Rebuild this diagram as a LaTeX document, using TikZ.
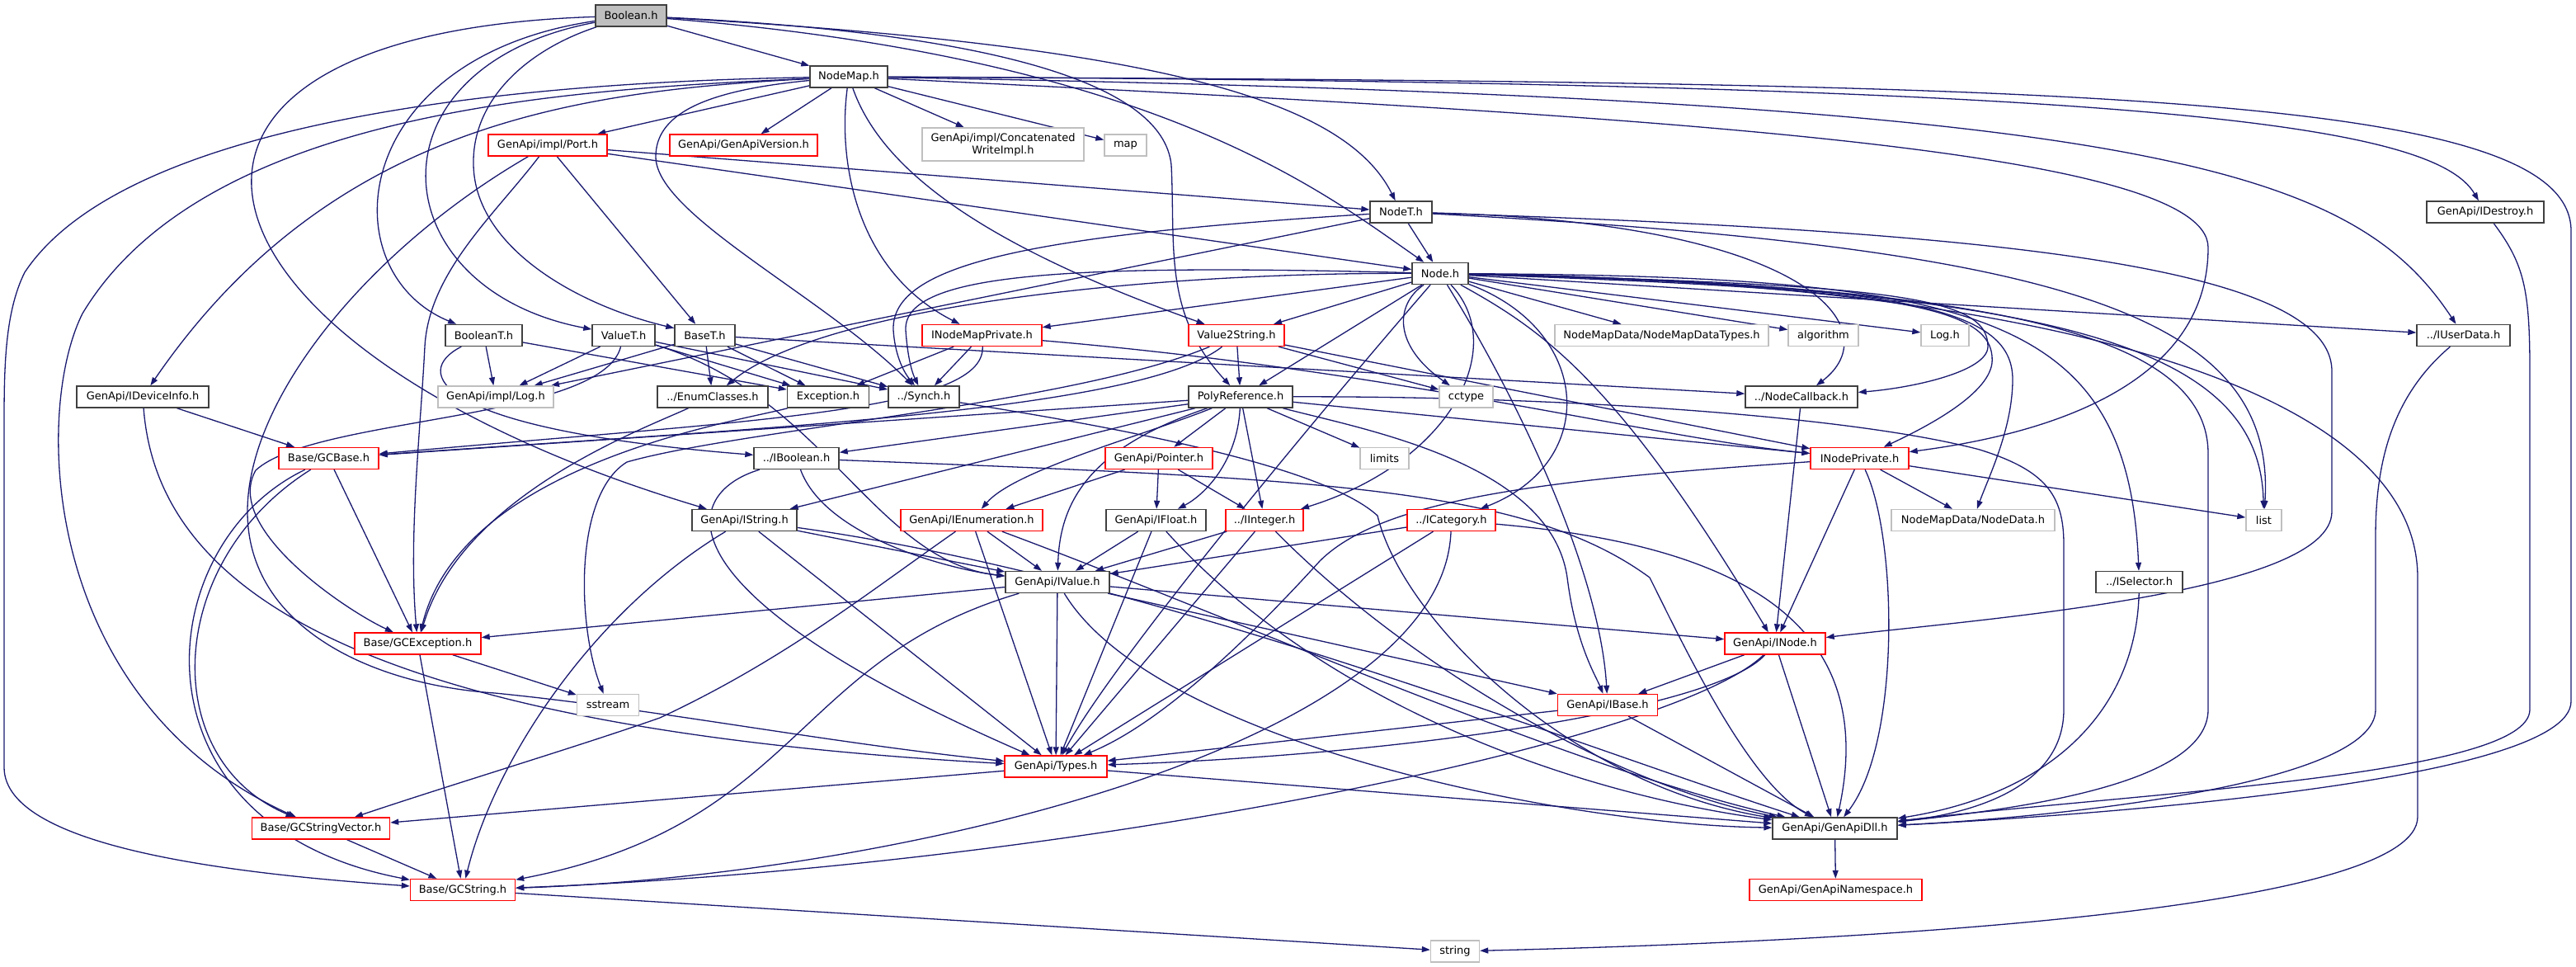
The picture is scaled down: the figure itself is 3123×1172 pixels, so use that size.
\documentclass[tikz,border=0pt]{standalone}
\usepackage{fontspec}
\setmainfont{DejaVu Sans}
\usetikzlibrary{arrows.meta}
\definecolor{edgeblue}{HTML}{191970}
\definecolor{boxgray}{HTML}{404040}
\definecolor{extgray}{HTML}{BFBFBF}
\definecolor{boxred}{HTML}{FF0000}
\newcommand\dxfont{\fontsize{13pt}{15pt}\selectfont}
\pgfdeclarelayer{bg}
\pgfsetlayers{bg,main}
\tikzset{
 dxbox/.style={draw=boxgray, line width=1.4pt, fill=white, minimum height=26pt, inner sep=0pt, font=\dxfont},
 dxred/.style={dxbox, draw=boxred},
 dxext/.style={dxbox, draw=extgray},
 dxroot/.style={dxbox, fill=extgray},
 dxedge/.style={draw=edgeblue, line width=1.3pt, -{Triangle[length=10pt,width=7pt]}},
}
\begin{document}
\begin{tikzpicture}[x=1pt,y=-1pt]
\useasboundingbox (0,0) rectangle (3123,1172);
% nodes
\node[dxroot, minimum width=86pt] (bool) at (765,19) {Boolean.h};
\node[dxbox, minimum width=94pt] (nmap) at (1029,93) {NodeMap.h};
\node[dxred, minimum width=144pt] (port) at (664,176) {GenApi/impl/Port.h};
\node[dxred, minimum width=179pt] (gver) at (901.5,176) {GenApi/GenApiVersion.h};
\node[dxext, minimum width=196pt, minimum height=40pt, align=center] (cwi) at (1216,175) {GenApi/impl/Concatenated\\WriteImpl.h};
\node[dxext, minimum width=51pt] (map) at (1364.5,176) {map};
\node[dxbox, minimum width=75pt] (nodet) at (1698.5,257) {NodeT.h};
\node[dxbox, minimum width=142pt] (idest) at (3013,257) {GenApi/IDestroy.h};
\node[dxbox, minimum width=68pt] (node) at (1746,331.5) {Node.h};
\node[dxbox, minimum width=93pt] (boolt) at (586.5,406.5) {BooleanT.h};
\node[dxbox, minimum width=76pt] (valt) at (756,406.5) {ValueT.h};
\node[dxbox, minimum width=73pt] (baset) at (854.5,406.5) {BaseT.h};
\node[dxred, minimum width=145pt] (nmp) at (1190.5,406.5) {INodeMapPrivate.h};
\node[dxred, minimum width=116pt] (v2s) at (1499,406.5) {Value2String.h};
\node[dxext, minimum width=259pt] (nmdt) at (2014.5,406.5) {NodeMapData/NodeMapDataTypes.h};
\node[dxext, minimum width=85pt] (algo) at (2210.5,406.5) {algorithm};
\node[dxext, minimum width=58pt] (logh) at (2358,406.5) {Log.h};
\node[dxbox, minimum width=113pt] (iud) at (2986.5,406.5) {../IUserData.h};
\node[dxbox, minimum width=160pt] (idev) at (173,481) {GenApi/IDeviceInfo.h};
\node[dxext, minimum width=140pt] (ilog) at (601,481) {GenApi/impl/Log.h};
\node[dxbox, minimum width=134pt] (enumc) at (864,481) {../EnumClasses.h};
\node[dxbox, minimum width=99pt] (exc) at (1004,481) {Exception.h};
\node[dxbox, minimum width=86pt] (synch) at (1120,481) {../Synch.h};
\node[dxbox, minimum width=126pt] (poly) at (1504,481) {PolyReference.h};
\node[dxext, minimum width=65pt] (cctype) at (1777.5,481) {cctype};
\node[dxbox, minimum width=136pt] (ncb) at (2184,481) {../NodeCallback.h};
\node[dxred, minimum width=121pt] (gcbase) at (398.5,555.5) {Base/GCBase.h};
\node[dxbox, minimum width=103pt] (ibool) at (965.5,555.5) {../IBoolean.h};
\node[dxred, minimum width=130pt] (ptr) at (1405,555.5) {GenApi/Pointer.h};
\node[dxext, minimum width=59pt] (limits) at (1678.5,555.5) {limits};
\node[dxred, minimum width=119pt] (inp) at (2254.5,555.5) {INodePrivate.h};
\node[dxbox, minimum width=127pt] (istr) at (902.5,630.5) {GenApi/IString.h};
\node[dxred, minimum width=172pt] (ienum) at (1178,630.5) {GenApi/IEnumeration.h};
\node[dxbox, minimum width=121pt] (ifloat) at (1401.5,630.5) {GenApi/IFloat.h};
\node[dxred, minimum width=94pt] (iint) at (1533,630.5) {../IInteger.h};
\node[dxred, minimum width=107pt] (icat) at (1759.5,630.5) {../ICategory.h};
\node[dxext, minimum width=198pt] (ndata) at (2392,630.5) {NodeMapData/NodeData.h};
\node[dxext, minimum width=43pt] (list) at (2744.5,630.5) {list};
\node[dxbox, minimum width=126pt] (ival) at (1282,705.5) {GenApi/IValue.h};
\node[dxbox, minimum width=105pt] (isel) at (2593.5,705.5) {../ISelector.h};
\node[dxred, minimum width=153pt] (gcexc) at (506.5,780) {Base/GCException.h};
\node[dxred, minimum width=122pt] (inode) at (2152,780) {GenApi/INode.h};
\node[dxext, minimum width=75pt] (sstream) at (737,854.5) {sstream};
\node[dxred, minimum width=121pt] (ibase) at (1949,854.5) {GenApi/IBase.h};
\node[dxred, minimum width=124pt] (types) at (1280,929) {GenApi/Types.h};
\node[dxred, minimum width=167pt] (gcsv) at (389,1004) {Base/GCStringVector.h};
\node[dxbox, minimum width=151pt] (dll) at (2224.5,1004) {GenApi/GenApiDll.h};
\node[dxred, minimum width=127pt] (gcs) at (561,1078.5) {Base/GCString.h};
\node[dxred, minimum width=209pt] (gns) at (2225.5,1078.5) {GenApi/GenApiNamespace.h};
\node[dxext, minimum width=59pt] (string) at (1764,1153) {string};

\begin{pgfonlayer}{bg}
% Boolean.h
\draw[dxedge] (bool) -- (nmap);
\draw[dxedge] (bool) .. controls (1400,55) and (1630,120) .. (nodet);
\draw[dxedge] (bool) .. controls (1400,70) and (1600,230) .. (node);
\draw[dxedge] (bool) .. controls (1200,40) and (1410,100) .. (1420,200) .. controls (1425,300) and (1410,380) .. (poly);
\draw[dxedge] (bool) .. controls (420,70) and (400,330) .. (boolt);
\draw[dxedge] (bool) .. controls (440,80) and (460,350) .. (valt);
\draw[dxedge] (bool) .. controls (640,60) and (572,120) .. (574,200) .. controls (576,300) and (700,370) .. (baset);
\draw[dxedge] (bool) .. controls (100,40) and (200,420) .. (istr);
% NodeMap.h
\draw[dxedge] (nmap) -- (port);
\draw[dxedge] (nmap) -- (gver);
\draw[dxedge] (nmap) -- (cwi);
\draw[dxedge] (nmap) -- (map);
\draw[dxedge] (nmap) .. controls (1070,210) and (1200,300) .. (v2s);
\draw[dxedge] (nmap) .. controls (1015,200) and (1040,330) .. (nmp);
\draw[dxedge] (nmap) .. controls (850,110) and (795,140) .. (795,190) .. controls (795,260) and (1000,360) .. (synch);
\draw[dxedge] (nmap) .. controls (700,110) and (400,150) .. (idev);
\draw[dxedge] (nmap) .. controls (700,108) and (250,130) .. (100,380) .. controls (40,500) and (50,850) .. (gcsv);
\draw[dxedge] (nmap) .. controls (600,100) and (150,150) .. (30,330) .. controls (5,380) and (5,450) .. (5,520) -- (5,930) .. controls (5,1030) and (300,1060) .. (gcs);
\draw[dxedge] (nmap) .. controls (2600,100) and (2950,150) .. (idest);
\draw[dxedge] (nmap) .. controls (2500,100) and (3117,110) .. (3117,280) -- (3117,850) .. controls (3117,950) and (2500,990) .. (dll);
\draw[dxedge] (nmap) .. controls (2600,120) and (2850,200) .. (iud);
\draw[dxedge] (nmap) .. controls (2000,140) and (2677,180) .. (2677,300) .. controls (2677,480) and (2450,530) .. (inp);
% Port.h
\draw[dxedge] (port) -- (nodet);
\draw[dxedge] (port) -- (node);
\draw[dxedge] (port) -- (baset);
\draw[dxedge] (port) .. controls (600,260) and (520,330) .. (515,420) .. controls (510,520) and (495,650) .. (gcexc);
\draw[dxedge] (port) .. controls (450,300) and (300,480) .. (300,620) .. controls (300,760) and (450,830) .. (600,840) .. controls (800,860) and (1000,900) .. (types);
% NodeT.h
\draw[dxedge] (nodet) -- (node);
\draw[dxedge] (nodet) .. controls (1250,285) and (1080,320) .. (1083,400) .. controls (1085,430) and (1095,450) .. (synch);
\draw[dxedge] (nodet) -- (ilog);
\draw[dxedge] (nodet) .. controls (2200,270) and (2290,400) .. (ncb);
\draw[dxedge] (nodet) .. controls (2400,280) and (2827,320) .. (2827,450) -- (2827,620) .. controls (2827,720) and (2400,750) .. (inode);
\draw[dxedge] (nodet) .. controls (2500,300) and (2760,380) .. (list);
% IDestroy
\draw[dxedge] (idest) .. controls (3060,320) and (3067,350) .. (3067,450) -- (3067,860) .. controls (3067,940) and (2600,960) .. (dll);
% Node.h
\draw[dxedge] (node) -- (nmdt);
\draw[dxedge] (node) -- (algo);
\draw[dxedge] (node) -- (logh);
\draw[dxedge] (node) -- (iud);
\draw[dxedge] (node) .. controls (2400,335) and (2580,380) .. (isel);
\draw[dxedge] (node) .. controls (2500,350) and (2740,420) .. (list);
\draw[dxedge] (node) .. controls (2300,345) and (2440,370) .. (2440,460) .. controls (2440,520) and (2410,580) .. (ndata);
\draw[dxedge] (node) .. controls (2400,340) and (2931,450) .. (2931,700) -- (2931,990) .. controls (2931,1100) and (2300,1140) .. (string);
\draw[dxedge] (node) .. controls (2400,345) and (2677,400) .. (2677,550) -- (2677,860) .. controls (2677,950) and (2450,980) .. (dll);
\draw[dxedge] (node) .. controls (2300,345) and (2410,360) .. (2410,420) .. controls (2410,450) and (2320,470) .. (ncb);
\draw[dxedge] (node) .. controls (2300,350) and (2420,370) .. (2415,440) .. controls (2410,480) and (2330,520) .. (inp);
\draw[dxedge] (node) .. controls (1690,370) and (1690,420) .. (cctype);
\draw[dxedge] (node) -- (v2s);
\draw[dxedge] (node) -- (poly);
\draw[dxedge] (node) -- (nmp);
\draw[dxedge] (node) .. controls (1300,320) and (1095,330) .. (1098,400) .. controls (1100,430) and (1105,450) .. (synch);
\draw[dxedge] (node) .. controls (1400,330) and (1000,370) .. (enumc);
\draw[dxedge] (node) .. controls (1830,420) and (1760,560) .. (iint);
\draw[dxedge] (node) .. controls (1930,400) and (1940,560) .. (icat);
\draw[dxedge] (node) .. controls (1870,400) and (1960,460) .. (inode);
\draw[dxedge] (node) .. controls (1600,500) and (1350,800) .. (types);
\draw[dxedge] (node) .. controls (1850,500) and (1940,700) .. (ibase);
% BooleanT
\draw[dxedge] (boolt) -- (ilog);
\draw[dxedge] (boolt) .. controls (500,450) and (520,520) .. (ibool);
\draw[dxedge] (boolt) -- (exc);
% ValueT
\draw[dxedge] (valt) -- (ilog);
\draw[dxedge] (valt) .. controls (730,510) and (380,505) .. (310,570) .. controls (270,640) and (420,740) .. (gcexc);
\draw[dxedge] (valt) -- (exc);
\draw[dxedge] (valt) -- (synch);
\draw[dxedge] (valt) .. controls (1000,480) and (1060,680) .. (ival);
% BaseT
\draw[dxedge] (baset) -- (ilog);
\draw[dxedge] (baset) -- (enumc);
\draw[dxedge] (baset) -- (exc);
\draw[dxedge] (baset) -- (synch);
\draw[dxedge] (baset) -- (ncb);
% INodeMapPrivate
\draw[dxedge] (nmp) -- (exc);
\draw[dxedge] (nmp) -- (synch);
\draw[dxedge] (nmp) .. controls (1700,450) and (2000,530) .. (inp);
\draw[dxedge] (nmp) .. controls (1195,500) and (900,510) .. (gcbase);
% Value2String
\draw[dxedge] (v2s) -- (poly);
\draw[dxedge] (v2s) -- (cctype);
\draw[dxedge] (v2s) .. controls (1380,500) and (900,520) .. (gcbase);
\draw[dxedge] (v2s) .. controls (1300,490) and (900,520) .. (760,560) .. controls (695,600) and (700,760) .. (sstream);
\draw[dxedge] (v2s) -- (inp);
% PolyReference
\draw[dxedge] (poly) -- (ptr);
\draw[dxedge] (poly) .. controls (1500,560) and (1460,600) .. (ifloat);
\draw[dxedge] (poly) -- (iint);
\draw[dxedge] (poly) .. controls (1380,530) and (1230,570) .. (ienum);
\draw[dxedge] (poly) .. controls (1330,540) and (1285,600) .. (ival);
\draw[dxedge] (poly) -- (ibool);
\draw[dxedge] (poly) -- (istr);
\draw[dxedge] (poly) -- (limits);
\draw[dxedge] (poly) -- (gcbase);
\draw[dxedge] (poly) -- (inp);
\draw[dxedge] (poly) .. controls (1650,520) and (1880,560) .. (1900,700) .. controls (1910,780) and (1935,820) .. (ibase);
\draw[dxedge] (poly) .. controls (1900,480) and (2250,505) .. (2400,545) .. controls (2480,570) and (2502,600) .. (2502,660) -- (2502,860) .. controls (2502,950) and (2400,985) .. (dll);
% IDeviceInfo
\draw[dxedge] (idev) -- (gcbase);
\draw[dxedge] (idev) .. controls (190,700) and (400,880) .. (types);
% GCBase
\draw[dxedge] (gcbase) -- (gcexc);
\draw[dxedge] (gcbase) .. controls (180,660) and (150,1000) .. (gcs);
\draw[dxedge] (gcbase) .. controls (200,680) and (190,920) .. (gcsv);
% IBoolean
\draw[dxedge] (ibool) .. controls (1000,650) and (1150,690) .. (ival);
\draw[dxedge] (ibool) .. controls (820,600) and (800,720) .. (types);
\draw[dxedge] (ibool) .. controls (1600,580) and (1850,590) .. (2000,700) .. controls (2040,780) and (2120,950) .. (dll);
% Pointer
\draw[dxedge] (ptr) -- (ienum);
\draw[dxedge] (ptr) -- (ifloat);
\draw[dxedge] (ptr) -- (iint);
% INodePrivate
\draw[dxedge] (inp) -- (inode);
\draw[dxedge] (inp) .. controls (2300,650) and (2305,900) .. (dll);
\draw[dxedge] (inp) -- (ndata);
\draw[dxedge] (inp) -- (list);
\draw[dxedge] (inp) .. controls (1900,580) and (1680,600) .. (1600,680) .. controls (1500,790) and (1400,880) .. (types);
% IString
\draw[dxedge] (istr) -- (ival);
\draw[dxedge] (istr) -- (types);
\draw[dxedge] (istr) .. controls (720,740) and (600,920) .. (gcs);
\draw[dxedge] (istr) .. controls (1400,700) and (1900,900) .. (dll);
% IEnumeration
\draw[dxedge] (ienum) -- (ival);
\draw[dxedge] (ienum) -- (types);
\draw[dxedge] (ienum) .. controls (1050,720) and (950,800) .. (800,870) .. controls (700,905) and (550,950) .. (gcsv);
\draw[dxedge] (ienum) .. controls (1500,750) and (1900,930) .. (dll);
% IFloat
\draw[dxedge] (ifloat) -- (ival);
\draw[dxedge] (ifloat) -- (types);
\draw[dxedge] (ifloat) .. controls (1600,850) and (1900,960) .. (dll);
% IInteger
\draw[dxedge] (iint) -- (ival);
\draw[dxedge] (iint) -- (types);
\draw[dxedge] (iint) .. controls (1700,800) and (1950,950) .. (dll);
% ICategory
\draw[dxedge] (icat) -- (ival);
\draw[dxedge] (icat) -- (types);
\draw[dxedge] (icat) .. controls (1750,900) and (1100,1060) .. (gcs);
\draw[dxedge] (icat) .. controls (2100,660) and (2280,750) .. (dll);
% ISelector
\draw[dxedge] (isel) .. controls (2590,850) and (2500,960) .. (dll);
% IValue
\draw[dxedge] (ival) -- (gcexc);
\draw[dxedge] (ival) -- (inode);
\draw[dxedge] (ival) -- (ibase);
\draw[dxedge] (ival) -- (types);
\draw[dxedge] (ival) .. controls (960,800) and (970,1000) .. (gcs);
\draw[dxedge] (ival) .. controls (1400,900) and (1900,1000) .. (dll);
% GCException
\draw[dxedge] (gcexc) -- (gcs);
\draw[dxedge] (gcexc) -- (sstream);
% INode
\draw[dxedge] (inode) -- (ibase);
\draw[dxedge] (inode) -- (dll);
\draw[dxedge] (inode) .. controls (2080,860) and (1700,915) .. (types);
\draw[dxedge] (inode) .. controls (2030,900) and (1300,1050) .. (gcs);
% IBase
\draw[dxedge] (ibase) -- (types);
\draw[dxedge] (ibase) -- (dll);
% Types
\draw[dxedge] (types) -- (gcsv);
\draw[dxedge] (types) -- (dll);
% rest
\draw[dxedge] (gcsv) -- (gcs);
\draw[dxedge] (gcs) -- (string);
\draw[dxedge] (dll) -- (gns);
\draw[dxedge] (ncb) -- (inode);
\draw[dxedge] (iud) .. controls (2900,480) and (2880,560) .. (2880,650) -- (2880,860) .. controls (2880,950) and (2500,990) .. (dll);
\draw[dxedge] (synch) .. controls (1400,525) and (1610,570) .. (1670,625) .. controls (1700,750) and (1900,950) .. (dll);
\draw[dxedge] (exc) .. controls (900,510) and (560,560) .. (gcexc);
\draw[dxedge] (enumc) .. controls (780,520) and (560,600) .. (gcexc);
\end{pgfonlayer}
\end{tikzpicture}
\end{document}
